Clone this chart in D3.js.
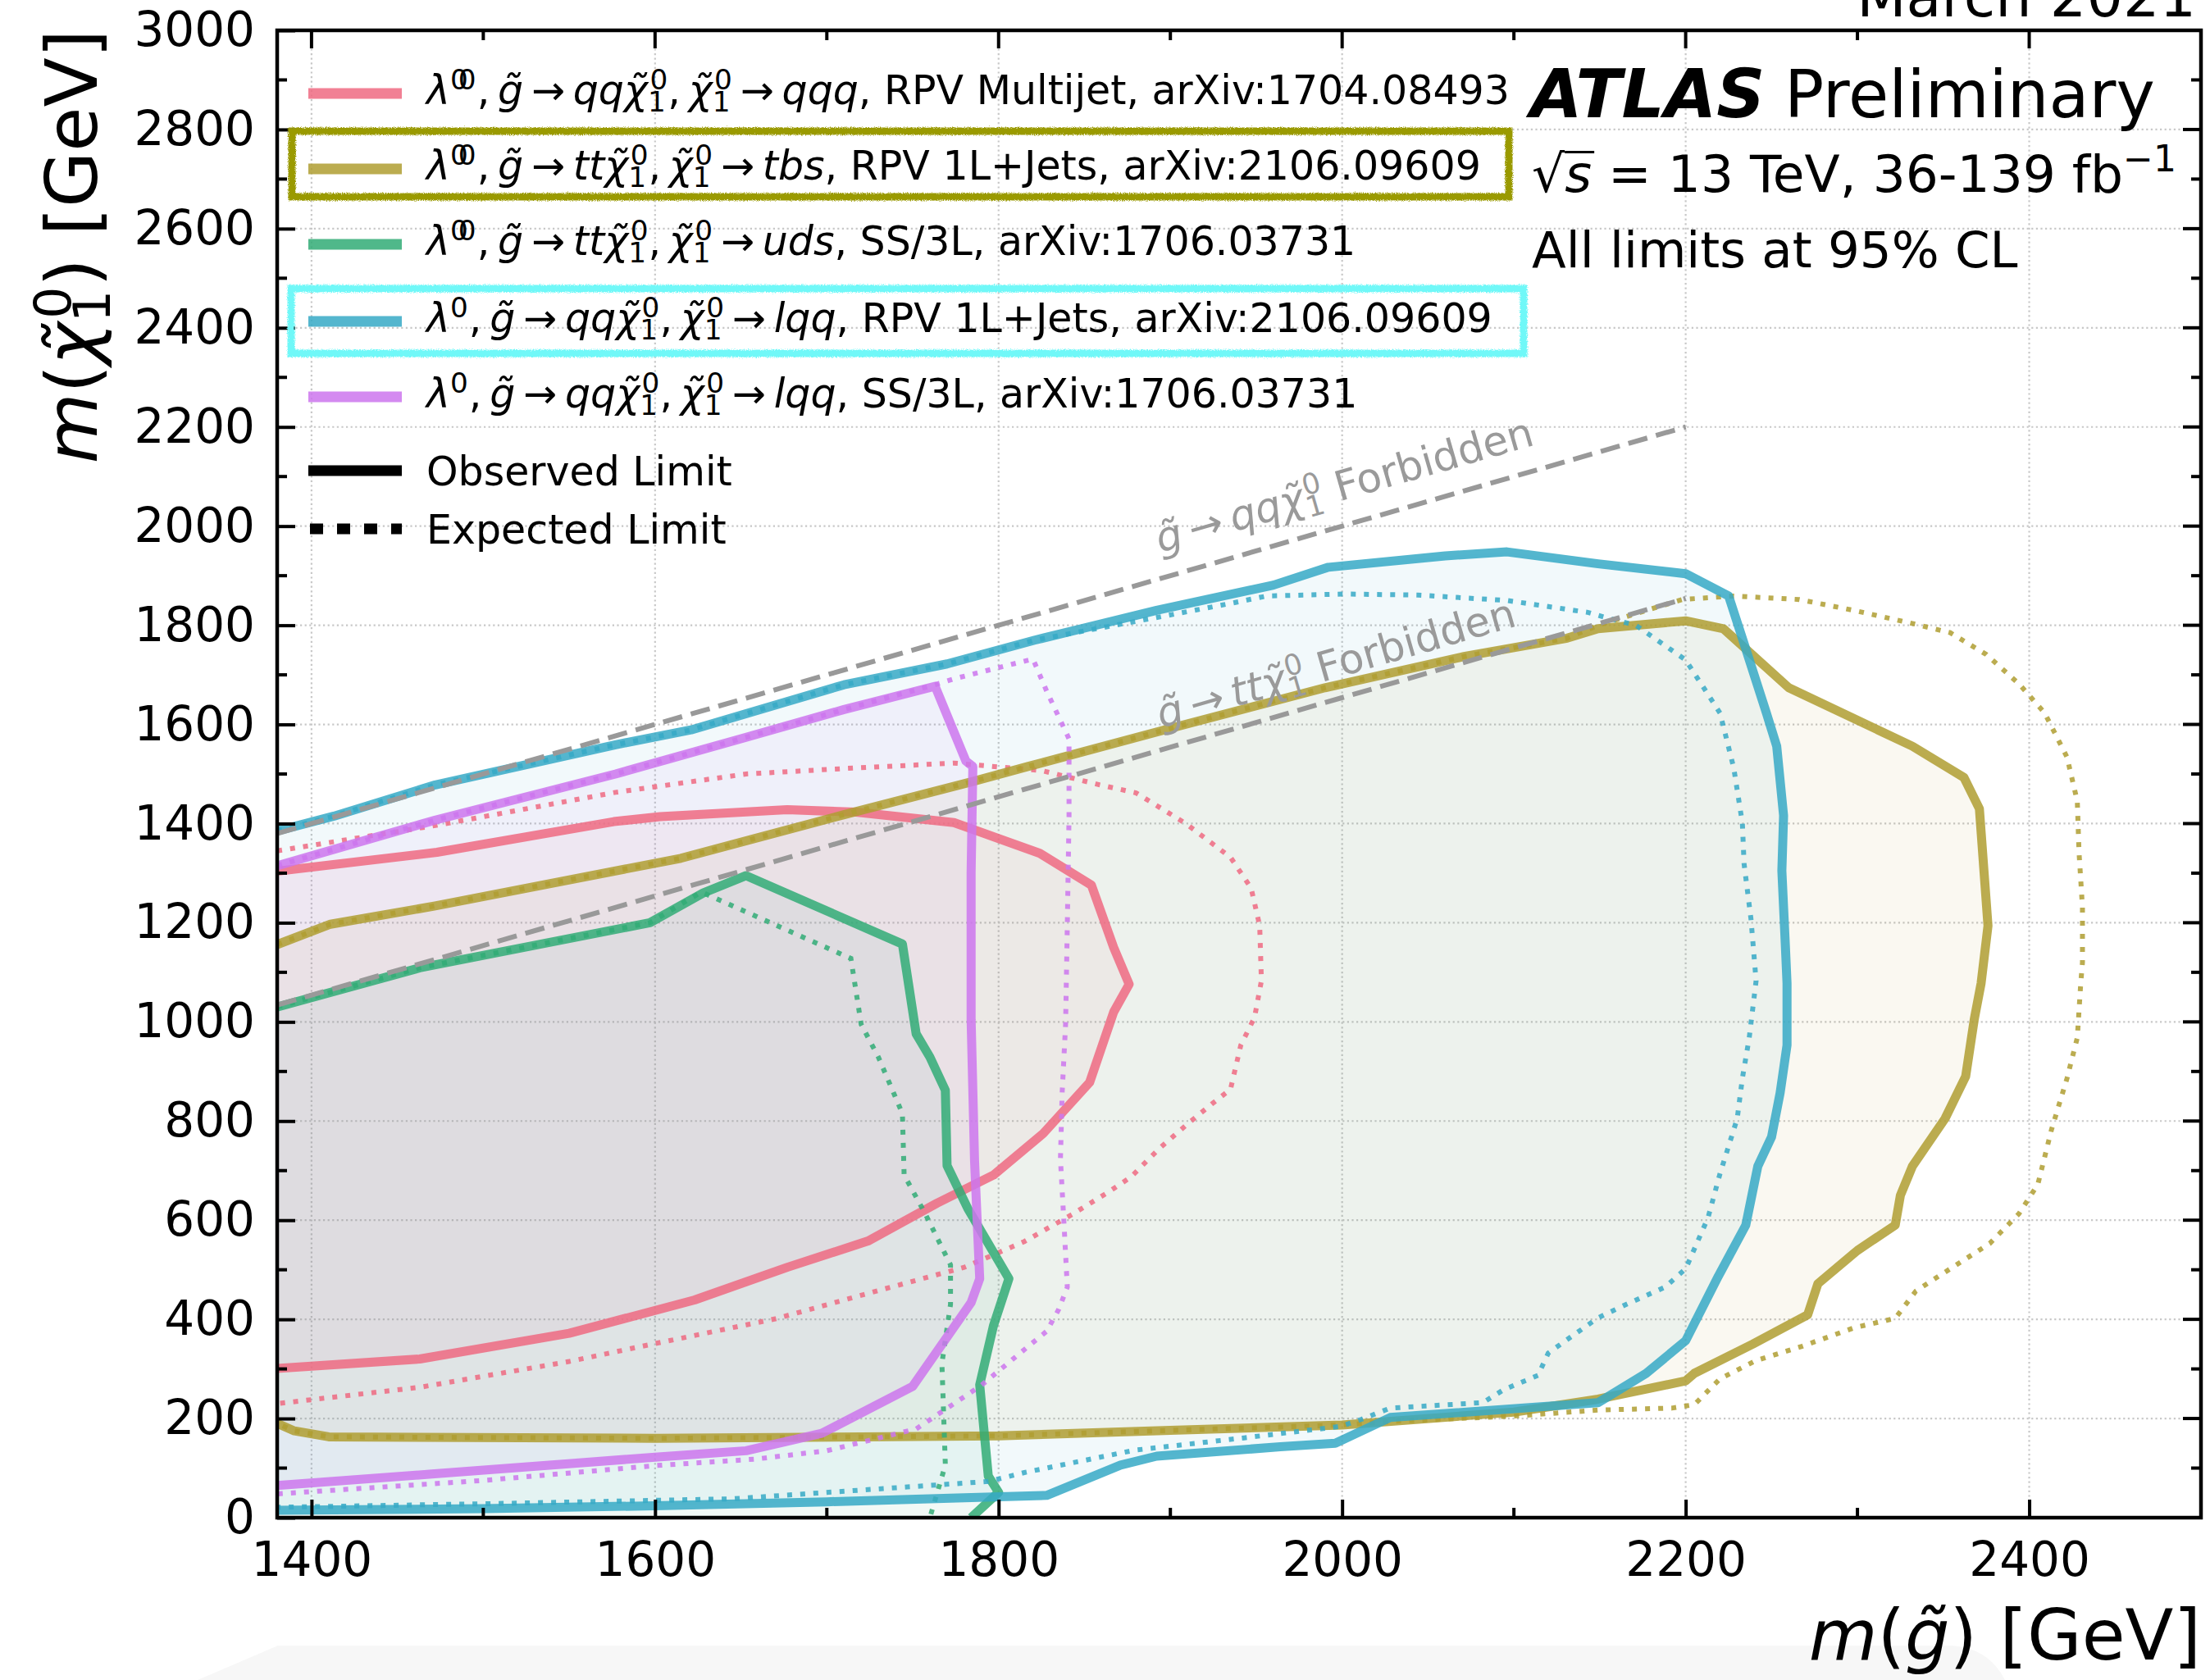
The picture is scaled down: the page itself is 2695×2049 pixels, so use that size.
<!DOCTYPE html>
<html>
<head>
<meta charset="utf-8">
<title>RPV gluino pair production limits</title>
<script src="https://cdn.jsdelivr.net/npm/d3@7/dist/d3.min.js"></script>
<style>
  html, body { margin: 0; padding: 0; background: #ffffff; }
  svg { display: block; }
  text { font-family: "DejaVu Sans", sans-serif; }
</style>
</head>
<body>
<svg id="chart" width="2695" height="2049"></svg>
<script>
// ---------------- axes ----------------
const xDomain = [1380, 2500];
const yDomain = [0, 3000];
const xTickValues = [1400, 1600, 1800, 2000, 2200, 2400];
const xTickLabels = ["1400", "1600", "1800", "2000", "2200", "2400"];
const yTickValues = [0, 200, 400, 600, 800, 1000, 1200, 1400, 1600, 1800, 2000, 2200, 2400, 2600, 2800, 3000];
const yTickLabels = ["0", "200", "400", "600", "800", "1000", "1200", "1400", "1600", "1800", "2000", "2200", "2400", "2600", "2800", "3000"];
const xMinorValues = [1500, 1700, 1900, 2100, 2300];
const yMinorValues = [100, 300, 500, 700, 900, 1100, 1300, 1500, 1700, 1900, 2100, 2300, 2500, 2700, 2900];

// ---------------- limit contours: [m(gluino), m(neutralino)] in GeV ----------------
// lambda'' -> qqq, RPV multijet
const multijetObs = [[1380,1304],[1473,1342],[1576,1404],[1603,1414],[1677,1428],[1717,1423],[1774,1402],[1824,1340],[1854,1276],[1867,1150],[1876,1076],[1867,1020],[1853,878],[1826,775],[1797,691],[1764,634],[1724,558],[1677,505],[1623,439],[1550,372],[1463,320],[1380,301]];
const multijetExp = [[1380,1345],[1472,1396],[1577,1463],[1653,1500],[1710,1511],[1774,1522],[1825,1507],[1859,1478],[1880,1462],[1909,1400],[1935,1332],[1947,1270],[1952,1194],[1953,1083],[1949,1009],[1941,953],[1935,864],[1924,834],[1911,797],[1894,746],[1877,687],[1864,657],[1843,612],[1815,557],[1780,505],[1730,458],[1670,401],[1597,349],[1550,315],[1463,263],[1380,230]];

// lambda'' -> tbs, RPV 1L+jets
const tbsObs = [[1380,1156],[1411,1197],[1472,1234],[1615,1330],[1710,1418],[1785,1485],[1817,1515],[1901,1593],[1990,1674],[2071,1737],[2131,1774],[2149,1793],[2200,1809],[2222,1793],[2260,1674],[2332,1556],[2362,1493],[2371,1430],[2376,1194],[2372,1078],[2368,1005],[2363,890],[2351,805],[2332,709],[2325,650],[2322,590],[2300,539],[2277,472],[2271,409],[2239,350],[2205,291],[2200,276],[2149,239],[2100,213],[2000,187],[1900,176],[1800,165],[1600,160],[1410,163],[1390,175],[1380,190]];
const tbsExp = [[1380,1156],[1411,1197],[1472,1234],[1615,1330],[1710,1418],[1785,1485],[1817,1515],[1901,1593],[1990,1674],[2071,1737],[2131,1774],[2149,1800],[2198,1852],[2228,1859],[2266,1852],[2298,1830],[2334,1802],[2354,1785],[2375,1741],[2394,1682],[2409,1623],[2422,1534],[2428,1445],[2429,1342],[2431,1231],[2431,1120],[2430,1078],[2428,968],[2422,886],[2413,783],[2405,672],[2394,613],[2377,553],[2354,502],[2334,457],[2322,402],[2298,383],[2268,346],[2241,317],[2220,280],[2205,228],[2192,221],[2149,217],[2100,205],[2028,194],[2000,187],[1900,176],[1800,165],[1600,160],[1410,163],[1390,175],[1380,190]];

// lambda'' -> uds, SS/3L
const udsObs = [[1380,1030],[1463,1109],[1597,1200],[1628,1260],[1653,1295],[1744,1157],[1752,976],[1760,929],[1769,862],[1770,710],[1782,624],[1806,482],[1797,387],[1789,268],[1794,84],[1800,51],[1784,0]];
const udsExp = [[1380,1030],[1463,1109],[1597,1200],[1627,1262],[1714,1128],[1720,995],[1730,929],[1744,815],[1745,691],[1757,615],[1772,510],[1772,430],[1767,311],[1769,106],[1760,0]];

// lambda' -> lqq, RPV 1L+jets
const lqq1LObs = [[1380,1385],[1413,1415],[1472,1478],[1577,1559],[1621,1589],[1710,1680],[1770,1722],[1821,1770],[1892,1830],[1960,1881],[1992,1917],[2060,1940],[2096,1948],[2149,1924],[2200,1904],[2225,1859],[2234,1763],[2247,1623],[2253,1556],[2257,1416],[2256,1305],[2258,1157],[2259,1078],[2259,953],[2255,857],[2250,768],[2242,709],[2235,590],[2219,487],[2200,357],[2177,291],[2149,232],[2028,202],[1996,150],[1964,143],[1892,124],[1871,106],[1828,45],[1780,40],[1700,32],[1600,24],[1500,18],[1380,15]];
const lqq1LExp = [[1380,1385],[1413,1415],[1472,1478],[1577,1559],[1621,1589],[1710,1680],[1770,1722],[1821,1770],[1891,1815],[1935,1844],[1956,1859],[2001,1863],[2044,1861],[2096,1850],[2143,1826],[2154,1815],[2171,1800],[2200,1730],[2220,1623],[2228,1512],[2233,1401],[2234,1319],[2238,1208],[2241,1083],[2237,968],[2233,886],[2230,805],[2220,694],[2213,605],[2200,502],[2188,465],[2164,428],[2149,403],[2135,369],[2120,332],[2114,287],[2094,258],[2082,232],[2028,221],[2011,198],[1999,184],[1943,161],[1879,136],[1815,91],[1794,73],[1645,38],[1500,28],[1380,21]];

// lambda' -> lqq, SS/3L
const lqqSSObs = [[1380,1315],[1472,1407],[1577,1500],[1653,1574],[1710,1630],[1763,1677],[1781,1526],[1785,1515],[1784,1300],[1784,1004],[1786,720],[1789,482],[1784,434],[1750,265],[1697,170],[1653,135],[1600,122],[1470,88],[1380,65]];
const lqqSSExp = [[1380,1315],[1472,1407],[1577,1500],[1653,1574],[1710,1630],[1763,1680],[1774,1692],[1820,1732],[1828,1667],[1841,1571],[1841,1415],[1840,1194],[1839,995],[1837,857],[1836,723],[1838,598],[1840,465],[1835,420],[1828,376],[1815,339],[1790,267],[1752,179],[1700,135],[1658,118],[1600,105],[1500,75],[1380,48]];

// kinematic boundaries
const forbiddenQQ = [[1380,1380],[2200,2200]];
const forbiddenTT = [[1380,1034],[2200,1854]];

const seriesColors = ["#ef6a81", "#af9d31", "#31ab75", "#36a9c5", "#cc75ed"];
const observedSets = [multijetObs, tbsObs, udsObs, lqq1LObs, lqqSSObs];
const expectedSets = [multijetExp, tbsExp, udsExp, lqq1LExp, lqqSSExp];

// legend text pieces
const legendCoupling = ["00", "00", "00", "0", "0"];
const legendProduction = ["qq", "tt", "tt", "qq", "qq"];
const legendDecay = ["qqq", "tbs", "uds", "lqq", "lqq"];
const legendAnalysis = [", RPV Multijet, arXiv:1704.08493", ", RPV 1L+Jets, arXiv:2106.09609", ", SS/3L, arXiv:1706.03731", ", RPV 1L+Jets, arXiv:2106.09609", ", SS/3L, arXiv:1706.03731"];

// ---------------- layout ----------------
const L = 338, R = 2684, T = 37, B = 1851;
const svg = d3.select("#chart");
const x = d3.scaleLinear().domain(xDomain).range([L, R]);
const y = d3.scaleLinear().domain(yDomain).range([B, T]);

const defs = svg.append("defs");
defs.append("clipPath").attr("id", "plot-clip")
  .append("rect").attr("x", L).attr("y", T).attr("width", R - L).attr("height", B - T);
const rough = defs.append("filter").attr("id", "rough")
  .attr("x", "-3%").attr("y", "-30%").attr("width", "106%").attr("height", "160%");
rough.append("feTurbulence").attr("type", "fractalNoise").attr("baseFrequency", "0.8")
  .attr("numOctaves", 2).attr("seed", 7).attr("result", "noise");
rough.append("feDisplacementMap").attr("in", "SourceGraphic").attr("in2", "noise")
  .attr("scale", 5).attr("xChannelSelector", "R").attr("yChannelSelector", "G");

// text measuring helper
const meas = svg.append("text").attr("x", -5000).attr("y", -5000);
function tw(t, size, italic, bold) {
  meas.attr("font-size", size).attr("font-style", italic ? "italic" : "normal")
      .attr("font-weight", bold ? "bold" : "normal").text(t);
  return meas.node().getComputedTextLength();
}
// draws a run of math-like text pieces, returns total advance
function richText(parent, x0, y0, segs, size, fill) {
  const txt = parent.append("text").attr("font-size", size).attr("fill", fill);
  const small = size * 0.7;
  let cx = x0;
  segs.forEach(s => {
    if (s.ss) {
      const [sp, sb] = s.ss;
      txt.append("tspan").attr("x", cx + size * 0.05).attr("y", y0 - size * 0.36).attr("font-size", small).text(sp);
      txt.append("tspan").attr("x", cx).attr("y", y0 + size * 0.18).attr("font-size", small).text(sb);
      cx += Math.max(tw(sp, small), tw(sb, small)) + size * 0.05;
    } else if (s.lam) {
      const w0 = tw("0", small);
      for (let k = 0; k < s.lam.length; k++) {
        txt.append("tspan").attr("x", cx + k * w0 * 0.45).attr("y", y0 - size * 0.36)
           .attr("font-size", small).text("0");
      }
      cx += w0 * (1 + 0.45 * (s.lam.length - 1)) + size * 0.02;
    } else if (s.sup) {
      txt.append("tspan").attr("x", cx).attr("y", y0 - size * 0.4).attr("font-size", small).text(s.sup);
      cx += tw(s.sup, small);
    } else {
      const t = s.t.replace(/ /g, "\u00A0");
      const sp = txt.append("tspan").attr("x", cx).attr("y", y0).text(t);
      if (s.i) sp.attr("font-style", "italic");
      if (s.b) sp.attr("font-weight", "bold");
      const w = tw(t, size, s.i, s.b);
      if (s.over) {
        parent.append("line").attr("x1", cx).attr("x2", cx + w + size * 0.05)
          .attr("y1", y0 - size * 0.77).attr("y2", y0 - size * 0.77)
          .attr("stroke", fill).attr("stroke-width", size * 0.05);
      }
      cx += w;
    }
  });
  return cx - x0;
}

// faint band along the bottom edge
svg.append("path").attr("d", "M241,2049 L339,2007 L2380,2007 Q2425,2010 2445,2049 Z").attr("fill", "#f7f7f7");

// ---------------- grid ----------------
const grid = svg.append("g").attr("stroke", "#c8c8c8").attr("stroke-width", 2.2).attr("stroke-dasharray", "2.2,3.4");
grid.selectAll("line.gx").data(xTickValues).join("line").attr("class", "gx")
  .attr("x1", d => x(d)).attr("x2", d => x(d)).attr("y1", T).attr("y2", B);
grid.selectAll("line.gy").data(yTickValues.filter(v => v > yDomain[0] && v < yDomain[1])).join("line").attr("class", "gy")
  .attr("x1", L).attr("x2", R).attr("y1", d => y(d)).attr("y2", d => y(d));

// ---------------- excluded regions ----------------
const line = d3.line().x(d => x(d[0])).y(d => y(d[1]));
const plot = svg.append("g").attr("clip-path", "url(#plot-clip)");
observedSets.forEach((pts, i) => {
  const first = pts[0], last = pts[pts.length - 1];
  const poly = pts.concat([[xDomain[0] - 20, last[1]], [xDomain[0] - 20, first[1]]]);
  plot.append("path").attr("d", line(poly) + "Z")
    .attr("fill", seriesColors[i]).attr("fill-opacity", 0.065).attr("stroke", "none");
});
observedSets.forEach((pts, i) => {
  plot.append("path").attr("d", line(pts)).attr("fill", "none")
    .attr("stroke", seriesColors[i]).attr("stroke-opacity", 0.85).attr("stroke-width", 11)
    .attr("stroke-linejoin", "round");
  plot.append("path").attr("d", line(expectedSets[i])).attr("fill", "none")
    .attr("stroke", seriesColors[i]).attr("stroke-opacity", 0.85).attr("stroke-width", 6)
    .attr("stroke-dasharray", "6,10");
});

// forbidden-region boundaries
[forbiddenQQ, forbiddenTT].forEach(pts => {
  plot.append("path").attr("d", line(pts)).attr("fill", "none")
    .attr("stroke", "#999999").attr("stroke-width", 6).attr("stroke-dasharray", "24,11");
});
function boundaryLabel(pts, mAt, offset, prod) {
  const ang = Math.atan2(y(pts[1][1]) - y(pts[0][1]), x(pts[1][0]) - x(pts[0][0])) * 180 / Math.PI;
  const slope = (pts[1][1] - pts[0][1]) / (pts[1][0] - pts[0][0]);
  const mY = pts[0][1] + slope * (mAt - pts[0][0]);
  const g = svg.append("g").attr("transform", `translate(${x(mAt)},${y(mY)}) rotate(${ang})`);
  richText(g, 0, -offset, [{t: "g\u0303", i: 1}, {t: "\u2009\u2192\u2009"}, {t: prod, i: 1}, {t: "\u03C7\u0303", i: 1}, {ss: ["0", "1"]}, {t: " Forbidden"}], 50, "#9a9a9a");
}
boundaryLabel(forbiddenQQ, 1898, 30, "qq");
boundaryLabel(forbiddenTT, 1898, 25, "tt");

// ---------------- frame and ticks ----------------
const xAxisB = d3.axisBottom(x).tickValues(xTickValues).tickFormat((d, i) => xTickLabels[i]).tickSize(-22).tickSizeOuter(0).tickPadding(30);
const yAxisL = d3.axisLeft(y).tickValues(yTickValues).tickFormat((d, i) => yTickLabels[i]).tickSize(-22).tickSizeOuter(0).tickPadding(27);
const gxB = svg.append("g").attr("transform", `translate(0,${B})`).call(xAxisB);
const gyL = svg.append("g").attr("transform", `translate(${L},0)`).call(yAxisL);
[gxB, gyL].forEach(g => {
  g.select(".domain").remove();
  g.attr("font-family", null).attr("font-size", null);
  g.selectAll("text").attr("font-size", 58).attr("fill", "#000");
  g.selectAll(".tick line").attr("stroke", "#000").attr("stroke-width", 4);
});
// top/right major ticks and minor ticks on all sides
const tk = svg.append("g").attr("stroke", "#000").attr("stroke-width", 4);
const innerX = xTickValues.filter(v => v > xDomain[0] && v < xDomain[1]);
const innerY = yTickValues.filter(v => v > yDomain[0] && v < yDomain[1]);
tk.selectAll("line.tt").data(innerX).join("line").attr("class", "tt")
  .attr("x1", d => x(d)).attr("x2", d => x(d)).attr("y1", T).attr("y2", T + 22);
tk.selectAll("line.tr").data(innerY).join("line").attr("class", "tr")
  .attr("x1", R).attr("x2", R - 22).attr("y1", d => y(d)).attr("y2", d => y(d));
tk.selectAll("line.mxb").data(xMinorValues).join("line").attr("class", "mxb")
  .attr("x1", d => x(d)).attr("x2", d => x(d)).attr("y1", B).attr("y2", B - 12);
tk.selectAll("line.mxt").data(xMinorValues).join("line").attr("class", "mxt")
  .attr("x1", d => x(d)).attr("x2", d => x(d)).attr("y1", T).attr("y2", T + 12);
tk.selectAll("line.myl").data(yMinorValues).join("line").attr("class", "myl")
  .attr("x1", L).attr("x2", L + 12).attr("y1", d => y(d)).attr("y2", d => y(d));
tk.selectAll("line.myr").data(yMinorValues).join("line").attr("class", "myr")
  .attr("x1", R).attr("x2", R - 12).attr("y1", d => y(d)).attr("y2", d => y(d));
svg.append("rect").attr("x", L).attr("y", T).attr("width", R - L).attr("height", B - T)
  .attr("fill", "none").attr("stroke", "#000").attr("stroke-width", 4.5);

// axis titles
const xt = svg.append("g");
const xtW = richText(xt, 0, 0, [{t: "m", i: 1}, {t: "("}, {t: "g\u0303", i: 1}, {t: ")"}, {t: " [GeV]"}], 86, "#000");
xt.attr("transform", `translate(${R - xtW},2024)`);
const ytG = svg.append("g");
const ytW = richText(ytG, 0, 0, [{t: "m", i: 1}, {t: "("}, {t: "\u03C7\u0303", i: 1}, {ss: ["0", "1"]}, {t: ")"}, {t: " [GeV]"}], 88, "#000");
ytG.attr("transform", `translate(118,${36 + ytW}) rotate(-90)`);

// ---------------- legend ----------------
const legendRows = [114, 206, 298, 392, 484];
const lg = svg.append("g");
legendRows.forEach((ry, i) => {
  lg.append("line").attr("x1", 376).attr("x2", 490).attr("y1", ry).attr("y2", ry)
    .attr("stroke", seriesColors[i]).attr("stroke-opacity", 0.85).attr("stroke-width", 13);
  richText(lg, 520, ry + 13, [
    {t: "\u03BB", i: 1}, {lam: legendCoupling[i]}, {t: ",\u2009"}, {t: "g\u0303", i: 1}, {t: "\u2009\u2192\u2009"},
    {t: legendProduction[i], i: 1}, {t: "\u03C7\u0303", i: 1}, {ss: ["0", "1"]}, {t: ",\u2009"},
    {t: "\u03C7\u0303", i: 1}, {ss: ["0", "1"]}, {t: "\u2009\u2192\u2009"}, {t: legendDecay[i], i: 1},
    {t: legendAnalysis[i]}
  ], 49, "#000");
});
lg.append("line").attr("x1", 376).attr("x2", 490).attr("y1", 574).attr("y2", 574)
  .attr("stroke", "#000").attr("stroke-width", 13);
lg.append("text").attr("x", 520).attr("y", 592).attr("font-size", 49).text("Observed Limit");
lg.append("line").attr("x1", 378).attr("x2", 490).attr("y1", 645).attr("y2", 645)
  .attr("stroke", "#000").attr("stroke-width", 13).attr("stroke-dasharray", "16,17");
lg.append("text").attr("x", 520).attr("y", 663).attr("font-size", 49).text("Expected Limit");

// highlight boxes around two legend entries
svg.append("rect").attr("x", 356).attr("y", 160).attr("width", 1484).attr("height", 80)
  .attr("fill", "none").attr("stroke", "#9a9a00").attr("stroke-width", 9).attr("filter", "url(#rough)");
svg.append("rect").attr("x", 355).attr("y", 352).attr("width", 1503).attr("height", 79)
  .attr("fill", "none").attr("stroke", "#6ff8f8").attr("stroke-width", 9).attr("filter", "url(#rough)");

// ---------------- labels ----------------
svg.append("text").attr("x", 1866).attr("y", 143).attr("font-size", 82)
  .attr("font-weight", "bold").attr("font-style", "italic").text("ATLAS");
svg.append("text").attr("x", 2176).attr("y", 143).attr("font-size", 80).text("Preliminary");
richText(svg, 1868, 234, [{t: "\u221A"}, {t: "s", i: 1, over: true}, {t: " = 13 TeV, 36-139 fb"}, {sup: "\u22121"}], 63, "#000");
svg.append("text").attr("x", 1868).attr("y", 326).attr("font-size", 61).text("All limits at 95% CL");
svg.append("text").attr("x", 2678).attr("y", 20).attr("font-size", 70).attr("text-anchor", "end").text("March 2021");

meas.remove();
</script>
</body>
</html>
